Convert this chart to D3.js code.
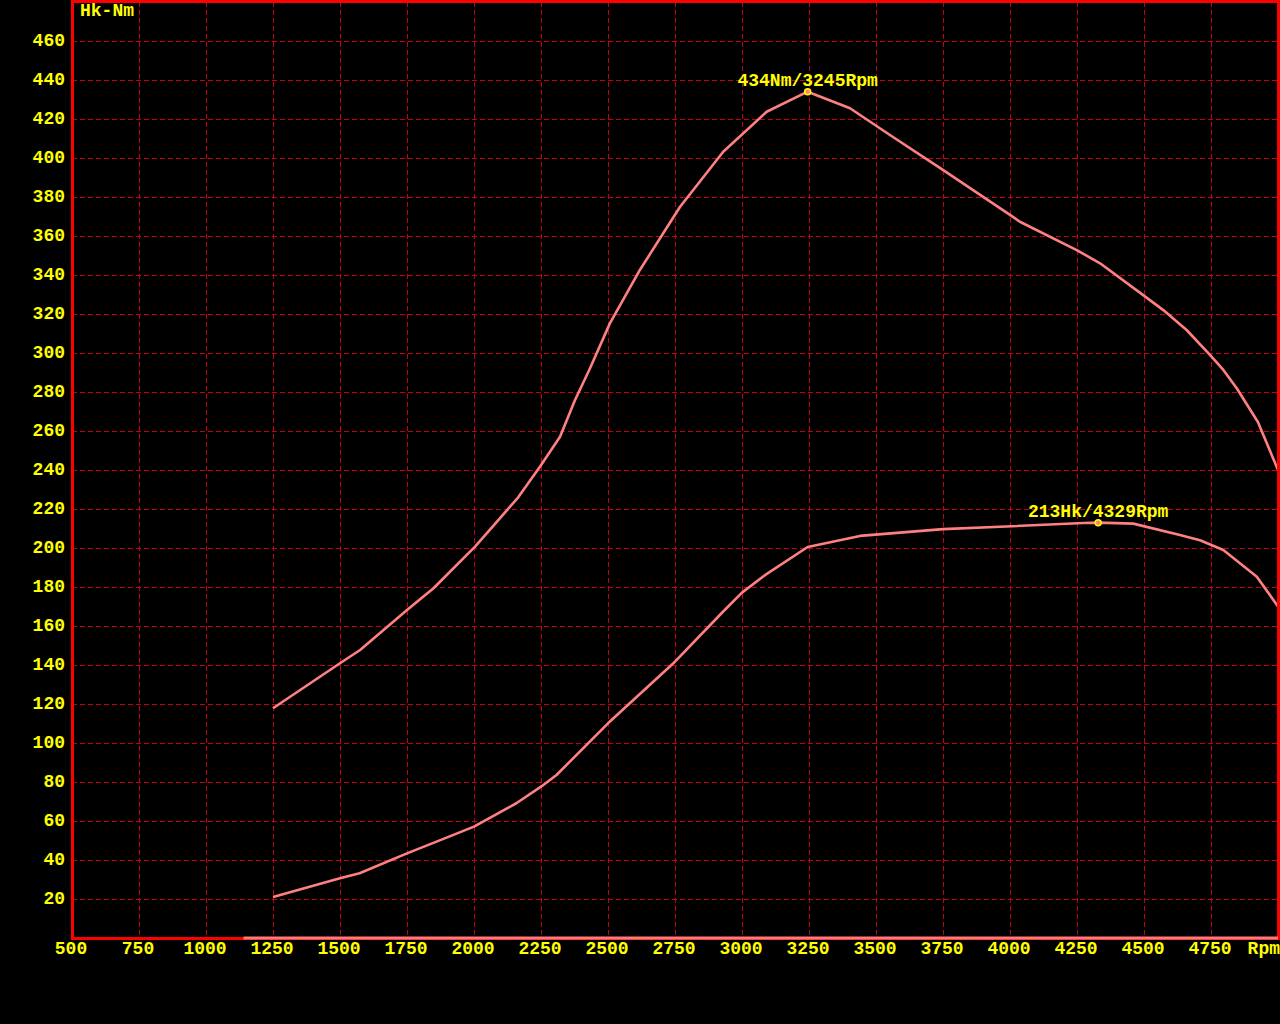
<!DOCTYPE html>
<html>
<head>
<meta charset="utf-8">
<script src="https://cdn.jsdelivr.net/npm/d3@7"></script>
<style>
  html, body { margin: 0; padding: 0; background: #000; }
  svg { display: block; }
  text { font-family: "Liberation Mono", "DejaVu Sans Mono", monospace; font-weight: bold; fill: #ffff00; }
</style>
</head>
<body>
<svg id="chart" width="1280" height="1024"></svg>
<script>
// ---- data ----
const rpmTicks = [500, 750, 1000, 1250, 1500, 1750, 2000, 2250, 2500, 2750, 3000, 3250, 3500, 3750, 4000, 4250, 4500, 4750];
const valueTicks = [20, 40, 60, 80, 100, 120, 140, 160, 180, 200, 220, 240, 260, 280, 300, 320, 340, 360, 380, 400, 420, 440, 460];
const yAxisTitle = "Hk-Nm";
const xAxisTitle = "Rpm";

const torqueRpm = [1250, 1500, 1575, 1750, 1850, 2004, 2165, 2246, 2321, 2377, 2433, 2507, 2619, 2769, 2930, 3092, 3245, 3403, 3552, 3751, 4000, 4037, 4249, 4336, 4497, 4572, 4659, 4746, 4796, 4846, 4925, 5000];
const torqueNm  = [117.8, 140.9, 147.7, 168.2, 179.5, 200.7, 226, 241.7, 257, 275.9, 292.2, 315.2, 342.6, 375, 403.2, 423.7, 434, 425.5, 411.8, 393.8, 370.8, 367.3, 352.8, 346, 329.7, 322, 311.8, 299, 291.3, 281.9, 264.6, 240];

const powerRpm = [1250, 1500, 1573, 1750, 1858, 2000, 2158, 2250, 2308, 2500, 2750, 2929, 3000, 3087, 3245, 3440, 3750, 3963, 4274, 4329, 4460, 4634, 4709, 4796, 4921, 5000];
const powerHk  = [21, 30.6, 33.2, 43.4, 49.3, 57.1, 69.1, 77.6, 83.6, 110.1, 141.7, 167.3, 177.1, 186.2, 200.5, 206.2, 209.7, 210.9, 212.8, 213, 212.5, 206.7, 204, 199, 185.3, 170];

const baseRpm = [1140, 5000];
const baseVal = [0, 0];

const peakLabels = ["434Nm/3245Rpm", "213Hk/4329Rpm"];
const peakRpm = [3245, 4329];
const peakVal = [434, 213];

// ---- drawing ----
const svg = d3.select("#chart");
const x = d3.scaleLinear().domain([500, 5000]).range([72, 1278]);
const y = d3.scaleLinear().domain([0, 480]).range([938, 2]);

const gridColor = "#c0001c";
const curveColor = "#ff8080";

// grid
const g = svg.append("g").attr("shape-rendering", "crispEdges");
g.selectAll("line.vg").data(rpmTicks.filter(d => d > 500)).enter().append("line")
  .attr("x1", d => Math.round(x(d)) + 0.5).attr("x2", d => Math.round(x(d)) + 0.5)
  .attr("y1", y(480)).attr("y2", y(0))
  .attr("stroke", gridColor).attr("stroke-width", 1).attr("stroke-dasharray", "5,3");
g.selectAll("line.hg").data(valueTicks).enter().append("line")
  .attr("x1", x(500)).attr("x2", x(5000))
  .attr("y1", d => Math.round(y(d)) + 0.5).attr("y2", d => Math.round(y(d)) + 0.5)
  .attr("stroke", gridColor).attr("stroke-width", 1).attr("stroke-dasharray", "5,3");

// curves
const line = d3.line().x(d => x(d[0])).y(d => y(d[1]));
const torque = torqueRpm.map((r, i) => [r, torqueNm[i]]);
const power = powerRpm.map((r, i) => [r, powerHk[i]]);
svg.append("path").datum(torque).attr("d", line)
  .attr("fill", "none").attr("stroke", curveColor).attr("stroke-width", 2.6).attr("stroke-linejoin", "round");
svg.append("path").datum(power).attr("d", line)
  .attr("fill", "none").attr("stroke", curveColor).attr("stroke-width", 2.6).attr("stroke-linejoin", "round");

// frame
const frame = svg.append("g").attr("shape-rendering", "crispEdges");
frame.append("line").attr("x1", x(500)).attr("x2", x(500)).attr("y1", 0).attr("y2", y(0) + 2)
  .attr("stroke", "#ff0000").attr("stroke-width", 3);
frame.append("line").attr("x1", x(500) - 1.5).attr("x2", 1280).attr("y1", 1.5).attr("y2", 1.5)
  .attr("stroke", "#ff0000").attr("stroke-width", 3);
frame.append("line").attr("x1", 1278.5).attr("x2", 1278.5).attr("y1", 0).attr("y2", y(0) + 2)
  .attr("stroke", "#ff0000").attr("stroke-width", 3);
frame.append("line").attr("x1", x(500) - 1.5).attr("x2", 1280).attr("y1", y(0) + 0.5).attr("y2", y(0) + 0.5)
  .attr("stroke", "#ff0000").attr("stroke-width", 3);

// base line at zero
const base = baseRpm.map((r, i) => [r, baseVal[i]]);
svg.append("path").datum(base).attr("d", line)
  .attr("fill", "none").attr("stroke", "#ff7a7a").attr("stroke-width", 3);

// axis labels
svg.append("g").selectAll("text").data(valueTicks).enter().append("text")
  .attr("x", 65).attr("y", d => y(d)).attr("dy", "0.3em")
  .attr("text-anchor", "end").attr("font-size", 18).text(d => d);
svg.append("g").selectAll("text").data(rpmTicks).enter().append("text")
  .attr("x", d => x(d) - 1).attr("y", 954)
  .attr("text-anchor", "middle").attr("font-size", 18).text(d => d);
svg.append("text").attr("x", 1280).attr("y", 954).attr("text-anchor", "end")
  .attr("font-size", 18).text(xAxisTitle);
svg.append("text").attr("x", 80).attr("y", 16).attr("font-size", 18).text(yAxisTitle);

// peak markers
peakLabels.forEach((lbl, i) => {
  svg.append("circle").attr("cx", x(peakRpm[i])).attr("cy", y(peakVal[i])).attr("r", 3)
    .attr("fill", "#ff8080").attr("stroke", "#ffff00").attr("stroke-width", 1.5);
  svg.append("text").attr("x", x(peakRpm[i])).attr("y", y(peakVal[i]) - 6)
    .attr("text-anchor", "middle").attr("font-size", 18).text(lbl);
});
</script>
</body>
</html>
